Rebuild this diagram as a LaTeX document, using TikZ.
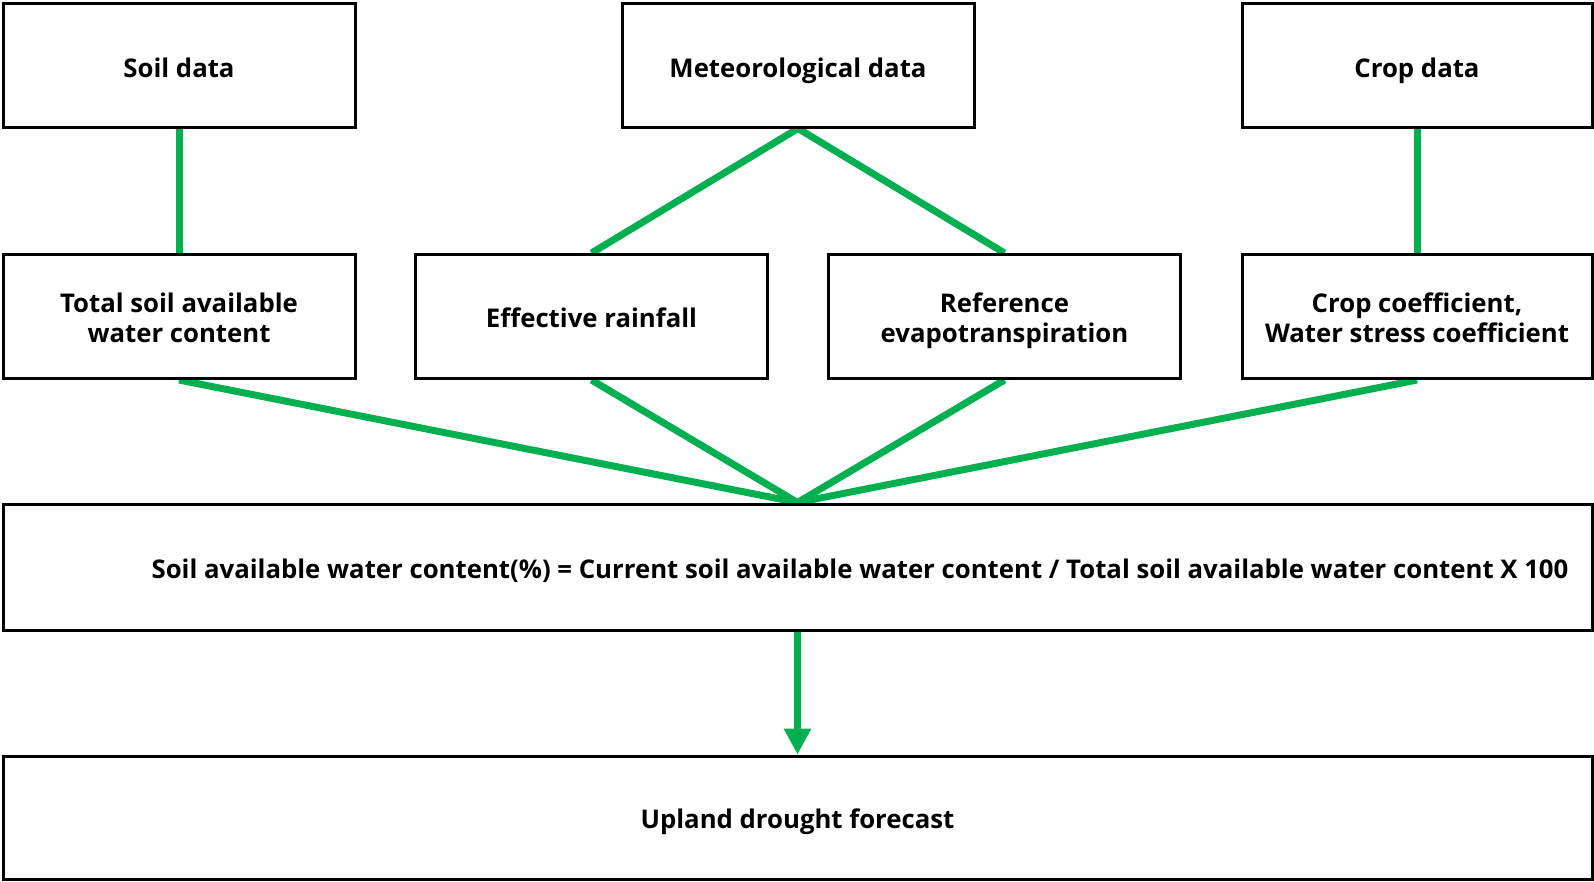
\documentclass[tikz,border=0pt]{standalone}
\usepackage{fontspec}
\setmainfont{Open Sans}
\usetikzlibrary{arrows.meta,backgrounds}
\definecolor{lgreen}{HTML}{00B050}
\newcommand{\boxtext}[2]{\makebox[0pt]{\raisebox{#1}[0pt][0pt]{\begin{tabular}[t]{@{}c@{}}#2\end{tabular}}}}
\begin{document}
\begin{tikzpicture}[x=1pt,y=-1pt,
  box/.style={draw=black,line width=3pt,fill=white,rectangle,inner sep=0pt,
    font=\fontsize{25.75}{30}\selectfont\bfseries,
    minimum width=#1},
  box/.default=352pt,
  link/.style={draw=lgreen,line width=7pt},
  boxh/.style={minimum height=124pt}]
\useasboundingbox (0,0) rectangle (1594,881);
\node[box,boxh] (soil) at (179,65) {\boxtext{-12pt}{Soil data}};
\node[box,boxh] (meteo) at (798,65) {\boxtext{-12pt}{Meteorological data}};
\node[box=350pt,boxh] (crop) at (1417,65) {\boxtext{-12pt}{Crop data}};
\node[box,boxh] (total) at (179,316.5) {\boxtext{4.5pt}{Total soil available\\water content}};
\node[box,boxh] (eff) at (591.5,316.5) {\boxtext{-11pt}{Effective rainfall}};
\node[box,boxh] (ref) at (1004.5,316.5) {\boxtext{4.5pt}{Reference\\evapotranspiration}};
\node[box=350pt,boxh] (coef) at (1417,316.5) {\boxtext{4.5pt}{Crop coefficient,\\Water stress coefficient}};
\node[box=1589pt,minimum height=126pt] (formula) at (797.5,567) {};
\node[font=\fontsize{25.75}{30}\selectfont\bfseries,inner sep=0pt] (ftext) at (860,567) {\boxtext{-11pt}{Soil available water content(\%) = Current soil available water content / Total soil available water content X 100}};
\node[box=1589pt,minimum height=123pt] (upland) at (797.5,817.5) {\boxtext{-11pt}{Upland drought forecast}};
\begin{scope}[on background layer]
\draw[link] (soil.south) -- (total.north);
\draw[link] (meteo.south) -- (eff.north);
\draw[link] (meteo.south) -- (ref.north);
\draw[link] (crop.south) -- (coef.north);
\draw[link] (total.south) -- (formula.north);
\draw[link] (eff.south) -- (formula.north);
\draw[link] (ref.south) -- (formula.north);
\draw[link] (coef.south) -- (formula.north);
\end{scope}
\draw[link,-{Triangle[width=26pt,length=26pt]}] (formula.south) -- (upland.north);
\end{tikzpicture}
\end{document}
